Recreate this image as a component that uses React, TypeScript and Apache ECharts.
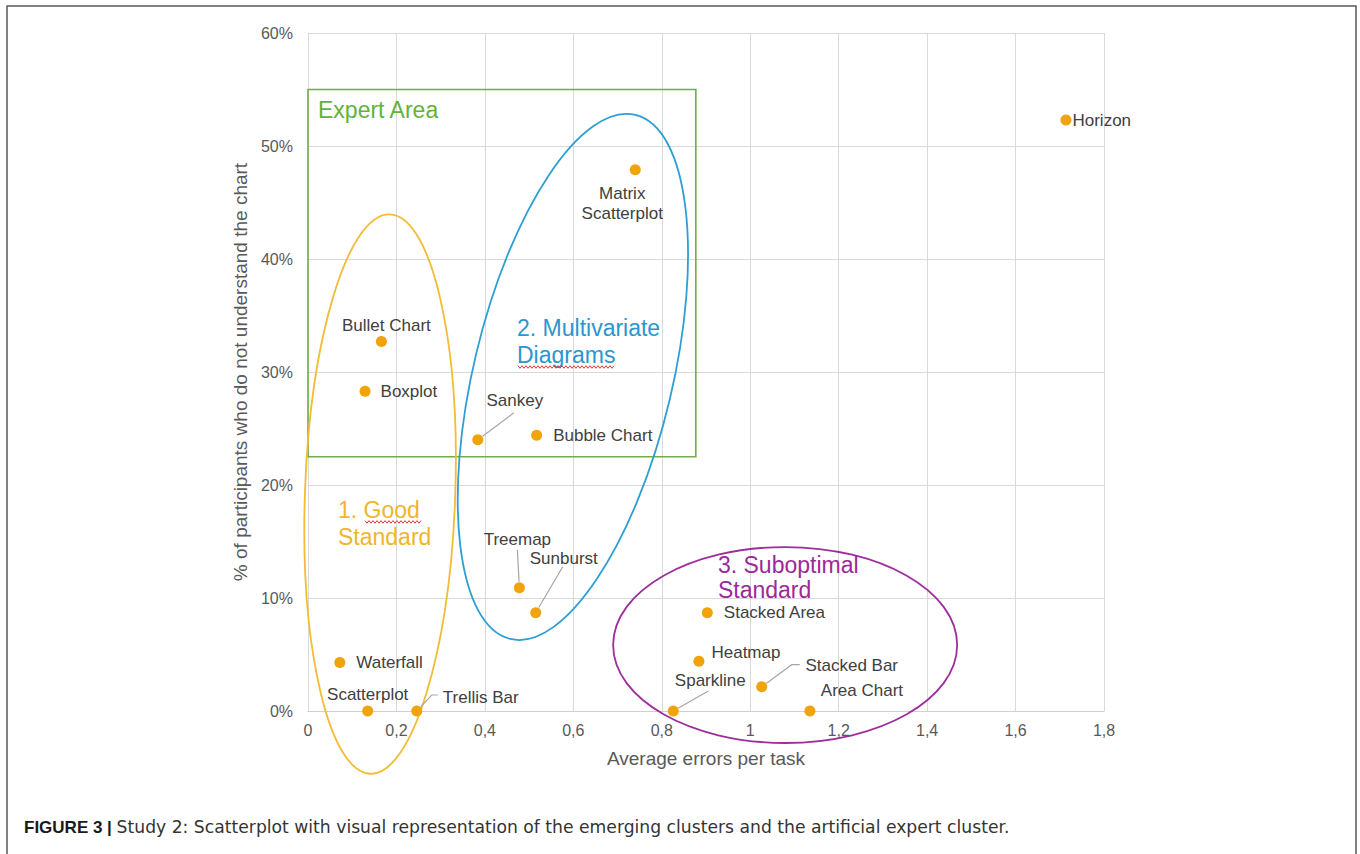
import React, { useEffect, useRef } from "react";
import * as echarts from "echarts";

// ---------- data ----------
const chartNames = [
  "Horizon",
  "Matrix\nScatterplot",
  "Bullet Chart",
  "Boxplot",
  "Sankey",
  "Bubble Chart",
  "Treemap",
  "Sunburst",
  "Waterfall",
  "Scatterplot",
  "Trellis Bar",
  "Sparkline",
  "Heatmap",
  "Stacked Area",
  "Stacked Bar",
  "Area Chart",
];
const avgErrors = [1.714, 0.74, 0.166, 0.129, 0.384, 0.517, 0.478, 0.515, 0.072, 0.135, 0.246, 0.826, 0.884, 0.903, 1.026, 1.135];
const notUnderstood = [0.523, 0.479, 0.327, 0.283, 0.24, 0.244, 0.109, 0.087, 0.043, 0, 0, 0, 0.044, 0.087, 0.0215, 0];

const xTickLabels = ["0", "0,2", "0,4", "0,6", "0,8", "1", "1,2", "1,4", "1,6", "1,8"];
const yTickLabels = ["0%", "10%", "20%", "30%", "40%", "50%", "60%"];

// cluster annotations (data coordinates)
const expertArea = [0, 0.55, 0.877, 0.225];
const clusterCenterX = [0.163, 0.599, 1.079];
const clusterCenterY = [0.192, 0.2956, 0.0584];
const clusterRadiusX = [0.17, 0.2248, 0.389];
const clusterRadiusY = [0.2478, 0.2383, 0.0867];
const clusterTiltDeg = [-2, -13.4, 0];
const clusterColors = ["#F2BC35", "#2E9FD3", "#9E2E9B"];

const clusterTitles = ["Expert Area", "2. Multivariate\nDiagrams", "1. Good\nStandard", "3. Suboptimal\nStandard"];
const titleX = [0.0226, 0.4726, 0.0678, 0.927];
const titleY = [0.532, 0.327, 0.166, 0.1177];
const titleColors = ["#62B33A", "#2B96CF", "#F0B52C", "#9B2A99"];

// ---------- styles / layout ----------
const FONT = '"Liberation Sans", Arial, Helvetica, sans-serif';
const titleLineHeights = [27, 27, 27, 25];
const labelPlacement: Record<string, any> = {
  Horizon: { pos: "right", dist: 1 },
  "Matrix\nScatterplot": { dx: -13, dy: 34 },
  "Bullet Chart": { dx: 5, dy: -16 },
  Boxplot: { pos: "right", dist: 10 },
  Sankey: { dx: 37, dy: -39 },
  "Bubble Chart": { pos: "right", dist: 11 },
  Treemap: { dx: -2, dy: -48 },
  Sunburst: { dx: 28, dy: -54 },
  Waterfall: { pos: "right", dist: 11 },
  Scatterplot: { dx: 0, dy: -17 },
  "Trellis Bar": { dx: 64, dy: -14 },
  Sparkline: { dx: 37, dy: -31 },
  Heatmap: { dx: 47, dy: -9 },
  "Stacked Area": { pos: "right", dist: 11 },
  "Stacked Bar": { dx: 90, dy: -21 },
  "Area Chart": { dx: 52, dy: -21 },
};
// leader line bends, pixel offsets from the point
const leaderPaths: Record<string, number[][]> = {
  Sankey: [[36, -27]],
  Treemap: [[-2, -38]],
  Sunburst: [[27, -46]],
  "Trellis Bar": [[15, -16], [21, -16]],
  Sparkline: [[35, -20]],
  "Stacked Bar": [[30, -22], [38, -22]],
};
// spell-check squiggles under title lines: [titleIndex, startDx, endDx, dy]
const squiggles = [
  [1, 1, 98, 25.5],
  [2, 27, 84, -1.5],
];

export default function App() {
  const ref = useRef<HTMLDivElement>(null);
  useEffect(() => {
    if (!ref.current) return;
    const chart = echarts.init(ref.current, undefined, { renderer: "svg" });
    const leaderIdx = chartNames.map((_, i) => i).filter((i) => leaderPaths[chartNames[i]]);
    const option: any = {
      animation: false,
      backgroundColor: "#ffffff",
      grid: { left: 308, right: 256, top: 33, bottom: 143, containLabel: false },
      xAxis: {
        type: "value",
        min: 0,
        max: 1.8,
        interval: 0.2,
        name: "Average errors per task",
        nameLocation: "middle",
        nameGap: 38,
        nameTextStyle: { color: "#595959", fontSize: 19, fontFamily: FONT },
        axisLine: { show: true, onZero: false, lineStyle: { color: "#cfcfcf", width: 1 } },
        axisTick: { show: false },
        axisLabel: {
          color: "#595959",
          fontSize: 16,
          fontFamily: FONT,
          margin: 11,
          formatter: (v: number) => xTickLabels[Math.round(v / 0.2)] ?? "",
        },
        splitLine: { show: true, lineStyle: { color: "#d9d9d9", width: 1 } },
      },
      yAxis: {
        type: "value",
        min: 0,
        max: 0.6,
        interval: 0.1,
        name: "% of participants who do not understand the chart",
        nameLocation: "middle",
        nameGap: 52,
        nameTextStyle: { color: "#595959", fontSize: 19, fontFamily: FONT },
        axisLine: { show: false },
        axisTick: { show: false },
        axisLabel: {
          color: "#595959",
          fontSize: 16,
          fontFamily: FONT,
          margin: 15,
          formatter: (v: number) => yTickLabels[Math.round(v * 10)] ?? "",
        },
        splitLine: { show: true, lineStyle: { color: "#d9d9d9", width: 1 } },
      },
      graphic: [
        {
          type: "rect",
          z: 100,
          shape: { x: 7, y: 6, width: 1349, height: 1000 },
          style: { fill: "none", stroke: "#5a5a5a", lineWidth: 1.5 },
          silent: true,
        },
        {
          type: "text",
          x: 24,
          y: 827,
          style: {
            text: "{b|FIGURE 3 |} {r|Study 2: Scatterplot with visual representation of the emerging clusters and the artificial expert cluster.}",
            fontSize: 17,
            fontFamily: FONT,
            fill: "#333333",
            verticalAlign: "middle",
            rich: {
              b: { fontWeight: "bold", fontSize: 17, fontFamily: FONT, fill: "#1a1a1a" },
              r: { fontSize: 17.2, fontFamily: '"DejaVu Sans", sans-serif', fill: "#333333" },
            },
          },
        },
      ],
      series: [
        {
          type: "custom",
          name: "expert",
          z: 2,
          silent: true,
          data: [expertArea],
          renderItem: (params: any, api: any) => {
            const p0 = api.coord([api.value(0), api.value(1)]);
            const p1 = api.coord([api.value(2), api.value(3)]);
            return {
              type: "rect",
              shape: { x: p0[0], y: p0[1], width: p1[0] - p0[0], height: p1[1] - p0[1] },
              style: { fill: "none", stroke: "#70AD47", lineWidth: 1.6 },
            };
          },
        },
        {
          type: "custom",
          name: "clusters",
          z: 3,
          silent: true,
          data: clusterCenterX.map((x, i) => [x, clusterCenterY[i]]),
          renderItem: (params: any, api: any) => {
            const i = params.dataIndex;
            const c = api.coord([api.value(0), api.value(1)]);
            const sx = api.size([clusterRadiusX[i], 0])[0];
            const sy = api.size([0, clusterRadiusY[i]])[1];
            return {
              type: "ellipse",
              x: c[0],
              y: c[1],
              rotation: (clusterTiltDeg[i] * Math.PI) / 180,
              shape: { cx: 0, cy: 0, rx: sx, ry: sy },
              style: { fill: "none", stroke: clusterColors[i], lineWidth: 1.8 },
            };
          },
        },
        {
          type: "custom",
          name: "titles",
          z: 4,
          silent: true,
          data: titleX.map((x, i) => [x, titleY[i]]),
          renderItem: (params: any, api: any) => {
            const i = params.dataIndex;
            const c = api.coord([api.value(0), api.value(1)]);
            const children: any[] = [
              {
                type: "text",
                x: c[0],
                y: c[1],
                style: {
                  text: clusterTitles[i],
                  fill: titleColors[i],
                  fontSize: 23,
                  fontFamily: FONT,
                  lineHeight: titleLineHeights[i],
                  align: "left",
                  verticalAlign: "middle",
                },
              },
            ];
            squiggles
              .filter((s) => s[0] === i)
              .forEach((s) => {
                const pts: number[][] = [];
                let k = 0;
                for (let dx = s[1]; dx <= s[2]; dx += 2, k++) {
                  pts.push([c[0] + dx, c[1] + s[3] + (k % 2 === 0 ? -1.3 : 1.3)]);
                }
                children.push({
                  type: "polyline",
                  shape: { points: pts },
                  style: { fill: "none", stroke: "#E0392F", lineWidth: 1 },
                });
              });
            return { type: "group", children };
          },
        },
        {
          type: "custom",
          name: "leaders",
          z: 4,
          silent: true,
          data: leaderIdx.map((i) => [avgErrors[i], notUnderstood[i]]),
          renderItem: (params: any, api: any) => {
            const path = leaderPaths[chartNames[leaderIdx[params.dataIndex]]];
            const c = api.coord([api.value(0), api.value(1)]);
            const first = path[0];
            const len = Math.hypot(first[0], first[1]);
            const start = [c[0] + (first[0] / len) * 6, c[1] + (first[1] / len) * 6];
            const pts = [start, ...path.map((p) => [c[0] + p[0], c[1] + p[1]])];
            return {
              type: "polyline",
              shape: { points: pts },
              style: { fill: "none", stroke: "#a6a6a6", lineWidth: 1.2 },
            };
          },
        },
        {
          type: "scatter",
          z: 5,
          symbolSize: 11,
          itemStyle: { color: "#F0A30A", opacity: 1 },
          emphasis: { disabled: true },
          label: {
            show: true,
            formatter: "{b}",
            color: "#404040",
            fontSize: 17,
            fontFamily: FONT,
            lineHeight: 20,
            align: "center",
          },
          labelLayout: (p: any) => {
            const pl = labelPlacement[chartNames[p.dataIndex]];
            return pl && pl.dx !== undefined ? { dx: pl.dx, dy: pl.dy } : {};
          },
          data: chartNames.map((name, i) => {
            const pl = labelPlacement[name];
            return {
              name,
              value: [avgErrors[i], notUnderstood[i]],
              label: pl.pos ? { position: pl.pos, distance: pl.dist, align: "left" } : { position: "inside" },
            };
          }),
        },
      ],
    };
    chart.setOption(option);
    return () => chart.dispose();
  }, []);
  return (
    <div
      ref={ref}
      style={{ position: "absolute", left: 0, top: 0, width: 1360, height: 854, background: "#fff" }}
    />
  );
}
